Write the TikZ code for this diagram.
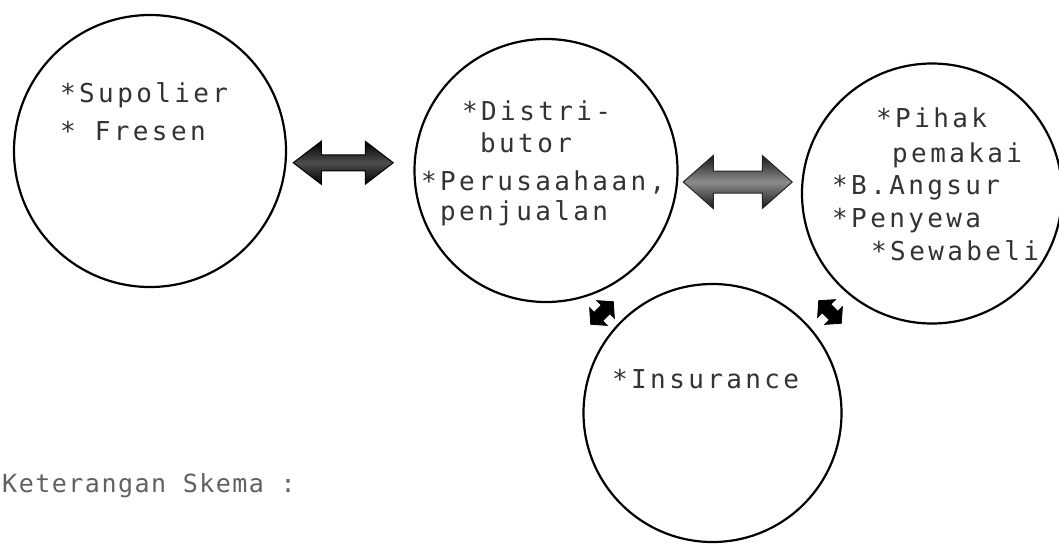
\documentclass[tikz,border=0pt]{standalone}
\usepackage{fontspec}
\setmonofont[LetterSpace=13]{DejaVu Sans Mono}
\newfontfamily\capfont[LetterSpace=6]{DejaVu Sans Mono}
\usetikzlibrary{calc}

% block-shaped double arrow centred on a named coordinate
% #1 centre, #2 angle, #3 half length, #4 half shaft, #5 half head, #6 head length, #7 style
\newcommand\blockarrow[7]{%
  \begin{scope}[shift={(#1)}, rotate=#2]
    \path[#7] (-#3,0) -- (-#3+#6,#5) -- (-#3+#6,#4) -- (#3-#6,#4) -- (#3-#6,#5)
      -- (#3,0) -- (#3-#6,-#5) -- (#3-#6,-#4) -- (-#3+#6,-#4) -- (-#3+#6,-#5) -- cycle;
  \end{scope}}

\begin{document}
\begin{tikzpicture}[x=1pt, y=-1pt,
  party/.style={circle, draw=black, line width=2.2pt, inner sep=0pt, minimum size=#1},
  entry/.style={anchor=base west, inner sep=0pt, text=black!80,
                font=\ttfamily\fontsize{26}{26}\selectfont},
  note/.style={anchor=base west, inner sep=0pt, text=black!62,
               font=\capfont\fontsize{25}{25}\selectfont},
  darkarrow/.style={draw=black, line width=1pt, top color=black, bottom color=black, middle color=black!70},
  greyarrow/.style={draw=black!85, line width=1pt, top color=black!90, bottom color=black!90, middle color=black!45},
  smallarrow/.style={fill=black, draw=black, line width=0.8pt, line join=miter}]
  \useasboundingbox (0,0) rectangle (1059,544);
  \fill[white] (0,0) rectangle (1059,544);

  % the four parties
  \node[party=272pt] (sup) at (150,151) {};
  \node[party=263pt] (dist) at (546,170.5) {};
  \node[party=260pt] (user) at (932,193.5) {};
  \node[party=258pt] (ins) at (712.5,413) {};

  % texts inside the circles
  \node[entry] (t1) at (60,102) {*Supolier};
  \node[entry] (t2) at (60,140) {* Fresen};

  \node[entry] (t3) at (462,120) {*Distri-};
  \node[entry] (t4) at (480,152) {butor};
  \node[entry] (t5) at (421,190) {*Perusaahaan,};
  \node[entry] (t6) at (440,220) {penjualan};

  \node[entry] (t7) at (876,127) {*Pihak};
  \node[entry] (t8) at (892,162) {pemakai};
  \node[entry] (t9) at (832,194) {*B.Angsur};
  \node[entry] (t10) at (832,227) {*Penyewa};
  \node[entry] (t11) at (871,260) {*Sewabeli};

  \node[entry] (t12) at (612,388) {*Insurance};

  % caption below the scheme
  \node[note] (cap) at (2,492) {Keterangan Skema :};

  % relations between the parties
  \coordinate (ab) at ($(sup.east)!0.5!(dist.west)+(-7,2)$);
  \coordinate (bc) at ($(dist.east)!0.5!(user.west)+(-2,0)$);
  \coordinate (bd) at (602,313);
  \coordinate (cd) at (830,312);

  \blockarrow{ab}{0}{50}{8}{21.5}{28}{darkarrow}
  \blockarrow{bc}{0}{54.5}{11}{26.5}{30}{greyarrow}
  \blockarrow{bd}{45}{16}{6}{12.5}{11}{smallarrow}
  \blockarrow{cd}{-45}{16}{6}{12.5}{11}{smallarrow}
\end{tikzpicture}
\end{document}
